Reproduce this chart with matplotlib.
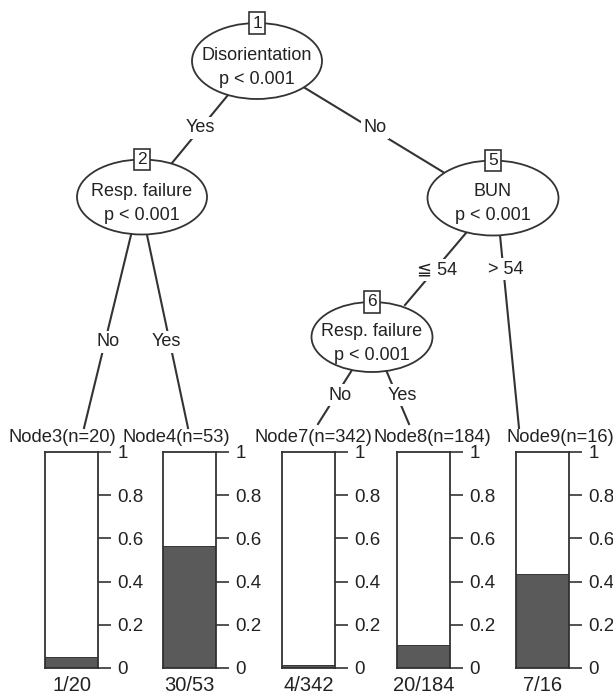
import matplotlib
matplotlib.use('Agg')
import matplotlib.pyplot as plt
from matplotlib.patches import Ellipse

plt.rcParams['font.family'] = ['Liberation Sans', 'DejaVu Sans']

# Terminal node data
node_names = ['Node3', 'Node4', 'Node7', 'Node8', 'Node9']
node_n = [20, 53, 342, 184, 16]
node_events = [1, 30, 4, 20, 7]

# Inner nodes: id, variable, p-value label
inner_ids = [1, 2, 5, 6]
inner_vars = ['Disorientation', 'Resp. failure', 'BUN', 'Resp. failure']
inner_p = ['p < 0.001'] * 4

# Edge labels
edge_labels = ['Yes', 'No', 'No', 'Yes', '\u2266 54', '> 54', 'No', 'Yes']

W, H = 613, 699
LINE = '#333333'
TEXT = '#222222'
GRAY = '#5a5a5a'

fig = plt.figure(figsize=(W / 100, H / 100), dpi=100)
ax = fig.add_axes([0, 0, 1, 1])
ax.set_xlim(0, W)
ax.set_ylim(H, 0)
ax.axis('off')

# layout (pixel space)
inner_xy = [(257, 61), (142, 197), (493, 198), (372, 337)]
inner_wh = [(130, 76), (130, 75), (131, 75), (121, 70)]
edge_pts = [((228, 95), (172, 163)),
            ((305, 88), (443, 172)),
            ((131, 235), (84, 428)),
            ((147, 235), (188, 428)),
            ((466, 233), (405, 305)),
            ((500, 235), (519, 428)),
            ((352, 370), (318, 424)),
            ((386, 370), (409, 424))]
label_xy = [(200, 128), (375, 128), (108, 342), (166, 342),
            (437, 270), (506, 269), (340, 395), (402, 395)]

for ((x0, y0), (x1, y1)), lab, (lx, ly) in zip(edge_pts, edge_labels, label_xy):
    ax.plot([x0, x1], [y0, y1], color=LINE, lw=1.5, zorder=1)
    ax.text(lx, ly, lab, ha='center', va='center', fontsize=13, color=TEXT,
            zorder=3, bbox=dict(boxstyle='square,pad=0.15', fc='white', ec='none'))

for nid, var, p, (cx, cy), (w, h) in zip(inner_ids, inner_vars, inner_p, inner_xy, inner_wh):
    ax.add_patch(Ellipse((cx, cy), w, h, fc='white', ec=LINE, lw=1.3, zorder=2))
    ax.text(cx, cy - 6, var, ha='center', va='center', fontsize=13, color=TEXT, zorder=3)
    ax.text(cx, cy + 18, p, ha='center', va='center', fontsize=13, color=TEXT, zorder=3)
    ax.text(cx, cy - h / 2, str(nid), ha='center', va='center', fontsize=12.5, color=TEXT, zorder=4,
            bbox=dict(boxstyle='square,pad=0.2', fc='white', ec=LINE, lw=1.2))

# terminal bar panels
bar_left = [45, 163, 282, 397, 516]
bar_w = 53
bar_top, bar_bot = 452, 668
title_x = [62, 176, 313, 432, 560]

for name, n, ev, bx, tx in zip(node_names, node_n, node_events, bar_left, title_x):
    ax.text(tx, 437, f'{name}(n={n})', ha='center', va='center', fontsize=13.2, color=TEXT)
    bax = fig.add_axes([bx / W, 1 - bar_bot / H, bar_w / W, (bar_bot - bar_top) / H])
    frac = ev / n
    bax.bar(0, frac, width=1, color=GRAY, edgecolor=LINE, lw=1.2)
    bax.bar(0, 1 - frac, bottom=frac, width=1, color='white', edgecolor='none')
    bax.set_xlim(-0.5, 0.5)
    bax.set_ylim(0, 1)
    bax.set_xticks([])
    bax.set_yticks([0, 0.2, 0.4, 0.6, 0.8, 1])
    bax.set_yticklabels(['0', '0.2', '0.4', '0.6', '0.8', '1'])
    bax.yaxis.tick_right()
    bax.tick_params(axis='y', direction='out', length=9, width=1.2, colors=LINE,
                    labelcolor=TEXT, labelsize=13.5, pad=5)
    for s in bax.spines.values():
        s.set_color(LINE)
        s.set_linewidth(1.3)
    bax.set_xlabel(f'{ev}/{n}', fontsize=14.5, color=TEXT, labelpad=6)

fig.savefig('out.png', dpi=100)
